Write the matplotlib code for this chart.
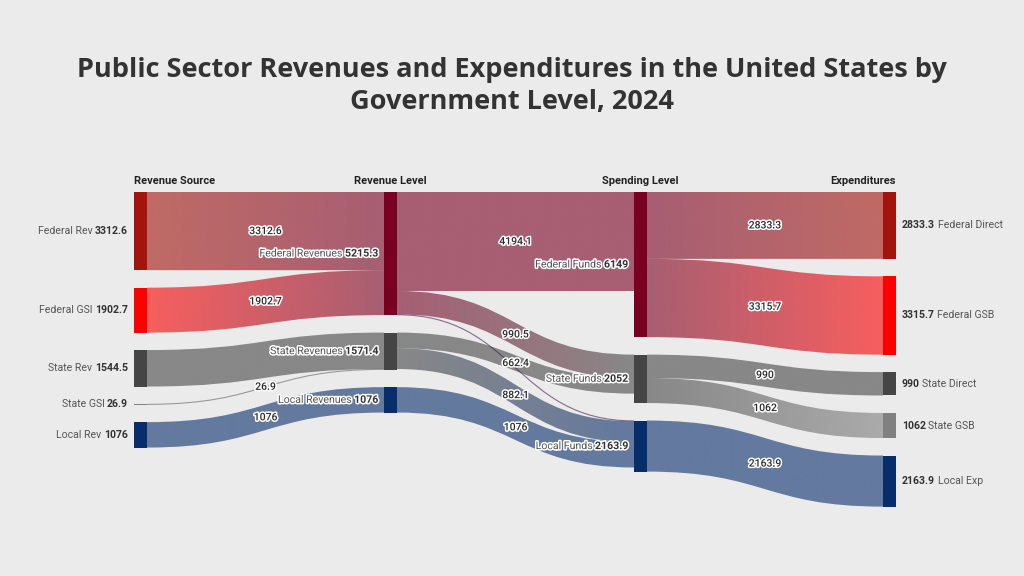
import numpy as np
import matplotlib.pyplot as plt
import matplotlib.patheffects as pe
from matplotlib.path import Path
from matplotlib.patches import PathPatch, Rectangle
from matplotlib.colors import to_rgb

# ==============================
# DATA
# ==============================
NODE_NAMES = [
    "Federal Rev", "Federal GSI", "State Rev", "State GSI", "Local Rev",
    "Federal Revenues", "State Revenues", "Local Revenues",
    "Federal Funds", "State Funds", "Local Funds",
    "Federal Direct", "Federal GSB", "State Direct", "State GSB", "Local Exp",
]
NODE_COLUMN = [0, 0, 0, 0, 0, 1, 1, 1, 2, 2, 2, 3, 3, 3, 3, 3]

LINK_SRC = [0, 1, 2, 3, 4, 5, 5, 5, 6, 6, 7, 8, 8, 9, 9, 10]
LINK_TGT = [5, 5, 6, 6, 7, 8, 9, 10, 9, 10, 10, 11, 12, 13, 14, 15]
LINK_VAL = [3312.6, 1902.7, 1544.5, 26.9, 1076,
            4194.1, 990.5, 30.7, 662.4, 882.1, 1076,
            2833.3, 3315.7, 990, 1062, 2163.9]
# labels the original chart leaves out (hidden behind node labels / too thin)
LINK_LABEL_HIDDEN = [2, 7]

COLUMN_HEADERS = ["Revenue Source", "Revenue Level", "Spending Level", "Expenditures"]
TITLE_LINES = ["Public Sector Revenues and Expenditures in the United States by",
               "Government Level, 2024"]

# ==============================
# STYLE
# ==============================
W, H = 1024, 576
BG = "#ebebeb"
FED_DARK = "#a3140c"
FED_RED = "#ff0000"
MAROON = "#7a0022"
DGRAY = "#454545"
MGRAY = "#808080"
NAVY = "#082d6b"
NODE_COLORS = [FED_DARK, FED_RED, DGRAY, MGRAY, NAVY,
               MAROON, DGRAY, NAVY,
               MAROON, DGRAY, NAVY,
               FED_DARK, FED_RED, DGRAY, MGRAY, NAVY]
LINK_ALPHA = 0.6

COL_X = [134, 384, 634, 883]
NODE_W = 13
TOP = 192
GAP = 17.5
SCALE = 0.0236  # px per unit

LABEL_FONT = ["Roboto", "DejaVu Sans"]
plt.rcParams["font.family"] = ["Open Sans", "DejaVu Sans"]

fig = plt.figure(figsize=(W / 100, H / 100), dpi=100, facecolor=BG)
ax = fig.add_axes([0, 0, 1, 1])
ax.set_xlim(0, W)
ax.set_ylim(H, 0)
ax.axis("off")
ax.set_facecolor(BG)

# ---- node sizes and positions
n = len(NODE_NAMES)
inflow = np.zeros(n)
outflow = np.zeros(n)
for s, t, v in zip(LINK_SRC, LINK_TGT, LINK_VAL):
    outflow[s] += v
    inflow[t] += v
node_val = np.maximum(inflow, outflow)

node_y0 = np.zeros(n)
node_h = node_val * SCALE
col_cursor = {c: TOP for c in range(4)}
for i in range(n):
    c = NODE_COLUMN[i]
    node_y0[i] = col_cursor[c]
    col_cursor[c] += node_h[i] + GAP

# ---- links
out_cursor = node_y0.copy()
in_cursor = node_y0.copy()
label_pos = []
for k, (s, t, v) in enumerate(zip(LINK_SRC, LINK_TGT, LINK_VAL)):
    h = v * SCALE
    x0 = COL_X[NODE_COLUMN[s]] + NODE_W
    x1 = COL_X[NODE_COLUMN[t]]
    ys0, ys1 = out_cursor[s], out_cursor[s] + h
    yt0, yt1 = in_cursor[t], in_cursor[t] + h
    out_cursor[s] += h
    in_cursor[t] += h
    xm = (x0 + x1) / 2

    c0 = np.array(to_rgb(NODE_COLORS[s]))
    c1 = np.array(to_rgb(NODE_COLORS[t]))

    if h < 1.5:
        # very thin link: draw as a line
        verts = [(x0, (ys0 + ys1) / 2), (xm, (ys0 + ys1) / 2),
                 (xm, (yt0 + yt1) / 2), (x1, (yt0 + yt1) / 2)]
        path = Path(verts, [Path.MOVETO, Path.CURVE4, Path.CURVE4, Path.CURVE4])
        mix = (c0 + c1) / 2
        ax.add_patch(PathPatch(path, facecolor="none", edgecolor=(*mix, 0.6),
                               lw=0.8, zorder=3))
    else:
        verts = [(x0, ys0), (xm, ys0), (xm, yt0), (x1, yt0),
                 (x1, yt1), (xm, yt1), (xm, ys1), (x0, ys1), (x0, ys0)]
        codes = [Path.MOVETO, Path.CURVE4, Path.CURVE4, Path.CURVE4,
                 Path.LINETO, Path.CURVE4, Path.CURVE4, Path.CURVE4, Path.CLOSEPOLY]
        patch = PathPatch(Path(verts, codes), facecolor="none", edgecolor="none")
        ax.add_patch(patch)
        tt = np.linspace(0, 1, 256)[:, None]
        grad = np.ones((1, 256, 4))
        grad[0, :, :3] = c0 * (1 - tt) + c1 * tt
        grad[0, :, 3] = LINK_ALPHA
        ymin = min(ys0, yt0) - 1
        ymax = max(ys1, yt1) + 1
        im = ax.imshow(grad, extent=(x0, x1, ymax, ymin), aspect="auto",
                       interpolation="bilinear", zorder=2)
        im.set_clip_path(patch)

    if k not in LINK_LABEL_HIDDEN:
        label_pos.append((xm, ((ys0 + ys1) / 2 + (yt0 + yt1) / 2) / 2, v))

ax.set_xlim(0, W)
ax.set_ylim(H, 0)

# ---- nodes
for i in range(n):
    x = COL_X[NODE_COLUMN[i]]
    ax.add_patch(Rectangle((x, node_y0[i]), NODE_W, max(node_h[i], 0.8),
                           facecolor=NODE_COLORS[i], edgecolor="none", zorder=4))

outline = [pe.withStroke(linewidth=2.2, foreground="white")]

# ---- link labels
for xm, ym, v in label_pos:
    ax.text(xm, ym, f"{v:g}", ha="center", va="center", fontsize=7.5,
            family=LABEL_FONT, fontweight="medium",
            color="#2a2a2a", path_effects=outline, zorder=6)

# ---- node labels (name + bold value)
renderer = fig.canvas.get_renderer()


def width_of(t):
    return t.get_window_extent(renderer=renderer).width


for i in range(n):
    c = NODE_COLUMN[i]
    yc = node_y0[i] + node_h[i] / 2
    val = f"{node_val[i]:g}"
    if c == 3:
        x = COL_X[c] + NODE_W + 6
        tv = ax.text(x, yc, val, ha="left", va="center", fontsize=7.6,
                     family=LABEL_FONT, fontweight="bold", color="#333333", zorder=6)
        ax.text(x + width_of(tv) + 2.5, yc, NODE_NAMES[i], ha="left", va="center",
                fontsize=7.6, family=LABEL_FONT, color="#555555", zorder=6)
    else:
        x = COL_X[c] - 6
        pe_use = outline if c in (1, 2) else None
        tv = ax.text(x, yc, val, ha="right", va="center", fontsize=7.6,
                     family=LABEL_FONT, fontweight="bold", color="#333333",
                     zorder=6, path_effects=pe_use)
        ax.text(x - width_of(tv) - 2.5, yc, NODE_NAMES[i], ha="right", va="center",
                fontsize=7.6, family=LABEL_FONT, color="#555555", zorder=6,
                path_effects=pe_use)

# ---- column headers
hdr_x = [COL_X[0], COL_X[1] + NODE_W / 2, COL_X[2] + NODE_W / 2, COL_X[3] + NODE_W]
hdr_ha = ["left", "center", "center", "right"]
for txt, x, ha in zip(COLUMN_HEADERS, hdr_x, hdr_ha):
    ax.text(x, 181, txt, ha=ha, va="center", fontsize=8, fontweight="bold",
            family=LABEL_FONT, color="#222222")

# ---- title
ax.text(W / 2, 70, TITLE_LINES[0], ha="center", va="center", fontsize=19.5,
        fontweight="bold", color="#333333")
ax.text(W / 2, 102, TITLE_LINES[1], ha="center", va="center", fontsize=19.5,
        fontweight="bold", color="#333333")

fig.savefig("out.png", dpi=100, facecolor=BG)
